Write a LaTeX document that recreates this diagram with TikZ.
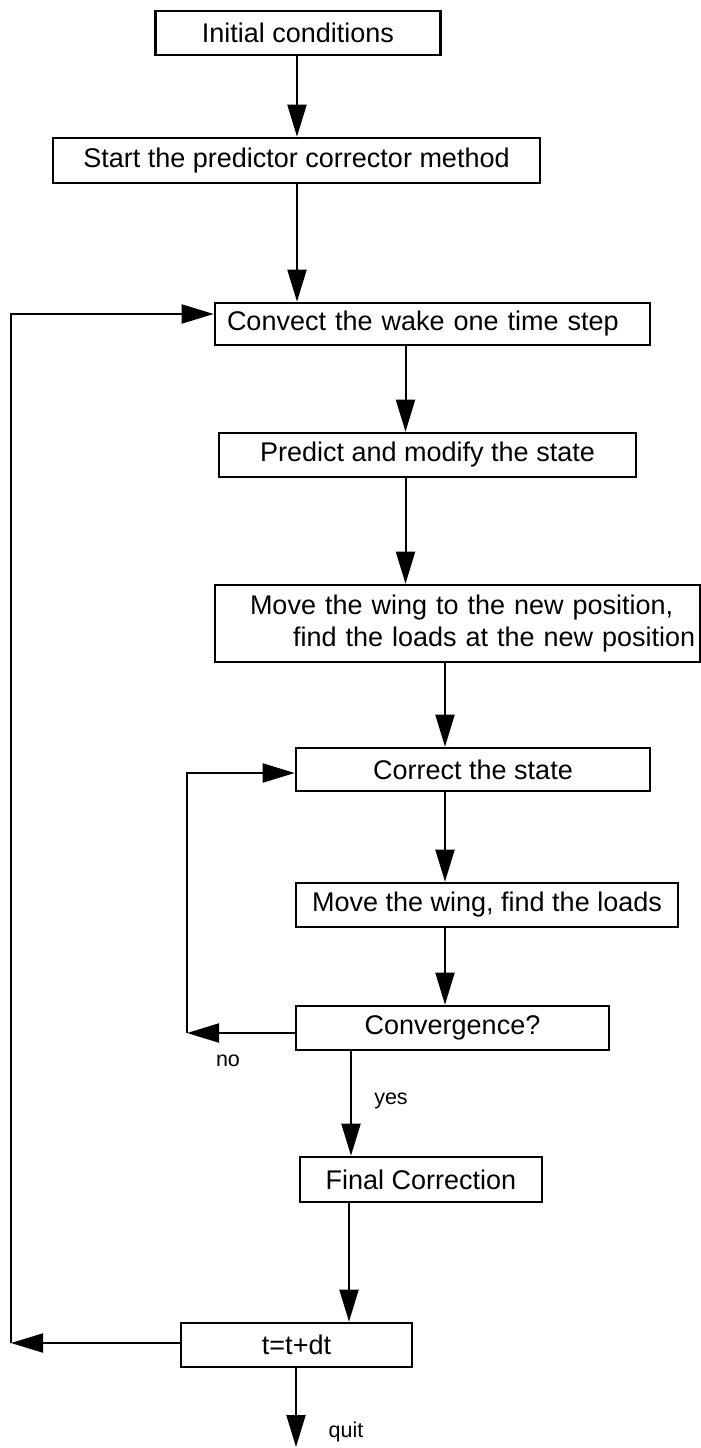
\documentclass[tikz,border=0pt]{standalone}
\usepackage{fontspec}
\setmainfont{Liberation Sans}
\usetikzlibrary{arrows.meta}
\begin{document}
\begin{tikzpicture}[x=1pt,y=-1pt,
  box/.style={draw, line width=2.6pt, rectangle, inner sep=0pt, font=\fontsize{27}{32}\selectfont},
  arr/.style={line width=2pt, -{Triangle[length=32pt,width=19pt]}},
  lbl/.style={font=\fontsize{21.5}{24}\selectfont, inner sep=0pt}]
\fill[white] (0,0) rectangle (701,1448);
\useasboundingbox (0,0) rectangle (701,1448);

\node[box, minimum width=285pt, minimum height=44pt] (b1) at (298,33) {Initial conditions};
\node[box, minimum width=487pt, minimum height=45pt] (b2) at (296.5,160.5) {Start the predictor corrector method};
\node[box, text width=411pt, align=left, inner xsep=12pt, minimum height=42pt] (b3) at (432.5,324) {Convect the wake one time step};
\node[box, minimum width=417pt, minimum height=44pt] (b4) at (427.5,455) {Predict and modify the state};
\node[box, text width=470pt, align=left, inner xsep=7.5pt, minimum height=77pt] (b5) at (457.5,623.5)
  {\rlap{\hspace*{27.5pt}Move the wing to the new position,}\\\rlap{\hspace*{70.5pt}find the loads at the new position}};
\node[box, minimum width=354pt, minimum height=43pt] (b6) at (473,769.5) {Correct the state};
\node[box, minimum width=382pt, minimum height=44pt] (b7) at (487,905) {Move the wing, find the loads};
\node[box, minimum width=313pt, minimum height=44pt] (b8) at (452.5,1028) {Convergence?};
\node[box, minimum width=242pt, minimum height=45pt] (b9) at (421,1179.5) {Final Correction};
\node[box, minimum width=231pt, minimum height=44pt] (b10) at (296.5,1345) {t=t+dt};

\node[lbl] (yes) at (391,1101) {yes};
\node[lbl] (no) at (228,1061) {no};
\node[lbl] (quit) at (346,1432) {quit};

\coordinate (c12) at (297,0);
\coordinate (c34) at (405.5,0);
\coordinate (c56) at (445,0);
\coordinate (cyes) at (351,0);
\coordinate (c910) at (349,0);
\coordinate (cq) at (296,1447);
\coordinate (nc) at (187,1033);
\coordinate (ny) at (0,773);
\coordinate (lc) at (11,1343);
\coordinate (lt) at (11,314);

\draw[arr] (b1.south -| c12) -- (b2.north -| c12);
\draw[arr] (b2.south -| c12) -- (b3.north -| c12);
\draw[arr] (b3.south -| c34) -- (b4.north -| c34);
\draw[arr] (b4.south -| c34) -- (b5.north -| c34);
\draw[arr] (b5.south -| c56) -- (b6.north -| c56);
\draw[arr] (b6.south -| c56) -- (b7.north -| c56);
\draw[arr] (b7.south -| c56) -- (b8.north -| c56);
\draw[arr] (b8.south -| cyes) -- (b9.north -| cyes);
\draw[arr] (b9.south -| c910) -- (b10.north -| c910);
\draw[arr] (b10.south -| cq) -- (cq);
\draw[arr] (b8.west |- nc) -- (nc);
\draw[arr] (nc) |- (b6.west |- ny);
\draw[arr] (b10.west |- lc) -- (lc);
\draw[arr] (lc) -- (lt) -- (b3.west |- lt);
\end{tikzpicture}
\end{document}
